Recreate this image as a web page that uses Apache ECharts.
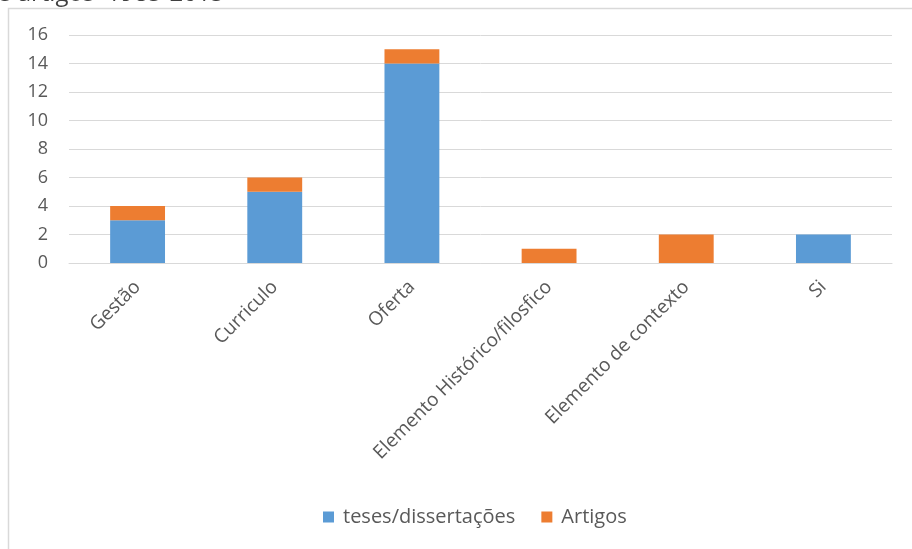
<!DOCTYPE html>
<html><head><meta charset="utf-8">
<script src="https://cdn.jsdelivr.net/npm/echarts@6/dist/echarts.min.js"></script>
<style>html,body{margin:0;padding:0;background:#fff}#c{width:912px;height:549px}</style>
</head><body><div id="c"></div>
<script>
const categories = ['Gestão','Curriculo','Oferta','Elemento Histórico/filosfico','Elemento de contexto','Si'];
const teses = [3,5,14,0,0,2];
const artigos = [1,1,1,1,2,0];
const seriesNames = ['teses/dissertações','Artigos'];
const titleText = 's artigos  1985-2015';

const chart = echarts.init(document.getElementById('c'));
const font = '"Open Sans", sans-serif';
chart.setOption({
  animation:false,
  color:['#5b9bd5','#ed7d31'],
  graphic:[
    {type:'rect',shape:{x:8.5,y:8.5,width:1000,height:1000},style:{fill:'none',stroke:'#d9d9d9',lineWidth:1.5},silent:true},
    {type:'text',x:0,y:-18,style:{text:titleText,font:'24px '+font,fill:'#404040'},silent:true}
  ],
  grid:{left:69,right:20,top:35,bottom:286,containLabel:false},
  legend:{bottom:17,left:318,itemWidth:11,itemHeight:11,itemGap:26,icon:'rect',
    textStyle:{fontFamily:font,fontSize:20,color:'#595959',padding:[0,0,0,4]},data:seriesNames},
  xAxis:{type:'category',data:categories,
    axisLine:{lineStyle:{color:'#d9d9d9',width:1}},axisTick:{show:false},
    axisLabel:{rotate:45,interval:0,margin:21,fontFamily:font,fontSize:19,color:'#595959'}},
  yAxis:{type:'value',min:0,max:16,interval:2,
    axisLine:{show:false},axisTick:{show:false},
    splitLine:{lineStyle:{color:'#d9d9d9',width:1}},
    axisLabel:{margin:21,fontFamily:font,fontSize:18,color:'#595959'}},
  series:[
    {name:seriesNames[0],type:'bar',stack:'s',data:teses,barWidth:'40%'},
    {name:seriesNames[1],type:'bar',stack:'s',data:artigos,barWidth:'40%'}
  ]
});
</script></body></html>
